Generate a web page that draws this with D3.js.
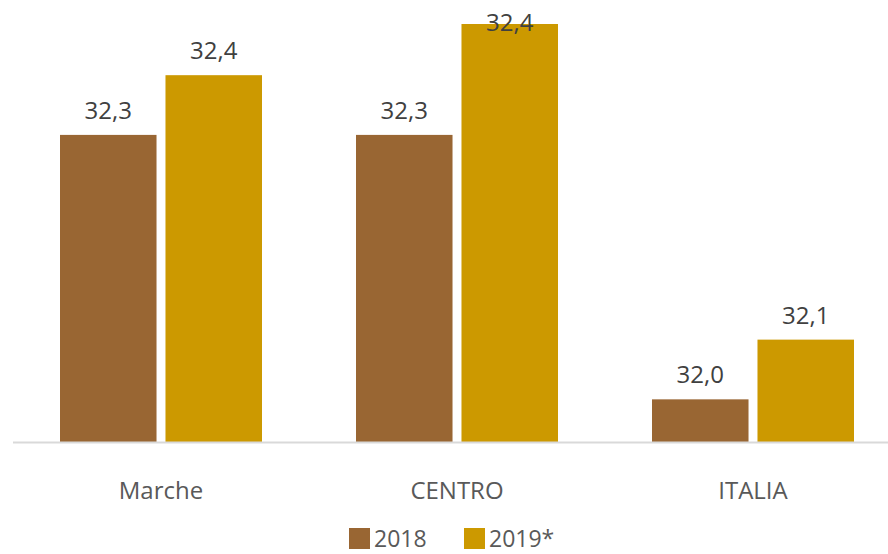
<!DOCTYPE html>
<html lang="it">
<head>
<meta charset="utf-8">
<title>Marche / Centro / Italia</title>
<script src="https://cdn.jsdelivr.net/npm/d3@7/dist/d3.min.js"></script>
<style>
  body { margin: 0; background: #fff; }
  svg { display: block; font-family: "Open Sans", sans-serif; }
</style>
</head>
<body>
<script>
// categories and series
var categories = ["Marche", "CENTRO", "ITALIA"];
var seriesNames = ["2018", "2019 *"];
var values2018 = [32.30, 32.30, 31.99];
var values2019 = [32.37, 32.43, 32.06];
var seriesColors = ["#996633", "#cc9900"];

// the value axis is cut (not starting at zero)
var axisMin = 31.94;
var axisMax = 32.43;

var width = 888, height = 554;
var baseY = 442, topY = 24;

var svg = d3.select("body").append("svg")
    .attr("width", width)
    .attr("height", height);

var x0 = d3.scaleBand().domain(categories).range([13, 901]);
var x1 = d3.scaleBand().domain(seriesNames)
    .range([47, 249]).paddingInner(0.085);
var y = d3.scaleLinear().domain([axisMin, axisMax]).range([baseY, topY]);

var rows = categories.map(function(c, i) {
  return { cat: c, vals: [values2018[i], values2019[i]] };
});

var groups = svg.selectAll("g.grp")
  .data(rows)
  .enter().append("g")
  .attr("class", "grp")
  .attr("transform", function(d) { return "translate(" + x0(d.cat) + ",0)"; });

var cells = groups.selectAll("g.cell")
  .data(function(d) {
    return d.vals.map(function(v, j) { return { s: seriesNames[j], v: v, j: j }; });
  })
  .enter().append("g").attr("class", "cell");

cells.append("rect")
  .attr("x", function(d) { return x1(d.s); })
  .attr("y", function(d) { return y(d.v); })
  .attr("width", x1.bandwidth())
  .attr("height", function(d) { return baseY - y(d.v); })
  .attr("fill", function(d) { return seriesColors[d.j]; });

cells.append("text")
  .attr("x", function(d) { return x1(d.s) + x1.bandwidth() / 2; })
  .attr("y", function(d) { return Math.max(y(d.v) - 16, 31); })
  .attr("text-anchor", "middle")
  .attr("font-size", 24)
  .attr("fill", "#404040")
  .text(function(d) { return d.v.toFixed(1).replace(".", ","); });

// base line
svg.append("line")
  .attr("x1", 13).attr("x2", width)
  .attr("y1", baseY + 0.5).attr("y2", baseY + 0.5)
  .attr("stroke", "#d9d9d9")
  .attr("stroke-width", 2);

// category labels
svg.selectAll("text.cat")
  .data(categories)
  .enter().append("text")
  .attr("class", "cat")
  .attr("x", function(d) { return x0(d) + x0.bandwidth() / 2; })
  .attr("y", 499)
  .attr("text-anchor", "middle")
  .attr("font-size", 24)
  .attr("fill", "#595959")
  .text(function(d) { return d; });

// legend
var legX = [349, 464];
var leg = svg.selectAll("g.leg")
  .data(seriesNames)
  .enter().append("g")
  .attr("class", "leg")
  .attr("transform", function(d, i) { return "translate(" + legX[i] + ",528)"; });

leg.append("rect")
  .attr("width", 21).attr("height", 21)
  .attr("fill", function(d, i) { return seriesColors[i]; });

leg.append("text")
  .attr("x", 25).attr("y", 19)
  .attr("font-size", 23)
  .attr("fill", "#595959")
  .text(function(d) { return d.replace(" ", ""); });
</script>
</body>
</html>
